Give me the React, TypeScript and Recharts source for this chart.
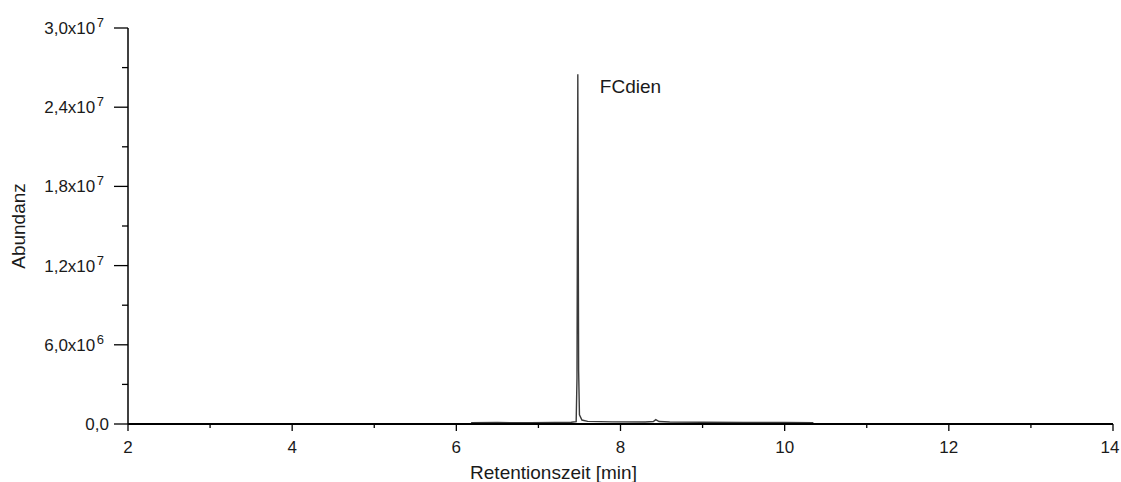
import React from 'react';
import { LineChart, Line, XAxis, YAxis } from 'recharts';

const times = [6.18, 6.5, 6.9, 7.2, 7.4, 7.46, 7.47, 7.48, 7.49, 7.5, 7.53, 7.6, 7.9, 8.3, 8.4, 8.43, 8.47, 8.6, 9.0, 9.5, 10.0, 10.35];
const abundance = [1.0e5, 1.1e5, 1.0e5, 1.2e5, 1.3e5, 1.8e5, 3.5e6, 2.65e7, 4.0e6, 7e5, 3.0e5, 2.0e5, 1.6e5, 1.5e5, 1.9e5, 3.3e5, 1.9e5, 1.5e5, 1.3e5, 1.2e5, 1.1e5, 1.0e5];

const peakName = 'FCdien';
const peakIndex = 7;

const xTicks = [2, 3, 4, 5, 6, 7, 8, 9, 10, 11, 12, 13, 14];
const xMajorTicks = [2, 4, 6, 8, 10, 12, 14];

const yTicks = [0, 3e6, 6e6, 9e6, 1.2e7, 1.5e7, 1.8e7, 2.1e7, 2.4e7, 2.7e7, 3e7];
const yMajorTicks = [0, 6e6, 1.2e7, 1.8e7, 2.4e7, 3e7];
const yMantissas = ['0,0', '6,0x10', '1,2x10', '1,8x10', '2,4x10', '3,0x10'];
const yExponents = ['', '6', '7', '7', '7', '7'];

const xTitle = 'Retentionszeit [min]';
const yTitle = 'Abundanz';

const data = times.map((t, i) => ({ t, a: abundance[i] }));

const FONT = '"Liberation Sans", Arial, sans-serif';
const TEXT = '#1a1a1a';
const CHART_W = 1121;
const CHART_H = 482;

const XTick = (props: any) => {
  const { x, y, payload } = props;
  const v = payload.value;
  const major = xMajorTicks.includes(v);
  const lx = Math.min(x, CHART_W - 11);
  return (
    <g>
      <line x1={x} x2={x} y1={y} y2={y + (major ? 7 : 4)} stroke="#000" strokeWidth={1.3} />
      {major && (
        <text x={lx} y={y + 29} textAnchor="middle" fontSize={17} fontFamily={FONT} fill={TEXT}>
          {String(v)}
        </text>
      )}
    </g>
  );
};

const YTick = (props: any) => {
  const { x, y, payload } = props;
  const v = payload.value;
  const mi = yMajorTicks.indexOf(v);
  const major = mi >= 0;
  return (
    <g>
      <line x1={x - (major ? 14 : 6)} x2={x} y1={y} y2={y} stroke="#000" strokeWidth={1.3} />
      {major && (
        <text x={x - (yExponents[mi] ? 24 : 19)} y={y + 6} textAnchor="end" fontSize={17} fontFamily={FONT} fill={TEXT}>
          {yMantissas[mi]}
          {yExponents[mi] ? (
            <tspan dx={1.5} dy={-7} fontSize={13}>
              {yExponents[mi]}
            </tspan>
          ) : null}
        </text>
      )}
    </g>
  );
};

const PeakLabel = (props: any) => {
  if (props.index !== peakIndex) return null;
  const vb = props.viewBox || {};
  const x = vb.x ?? props.x;
  const y = vb.y ?? props.y;
  return (
    <text x={x + 22} y={y + 19} fontSize={19} fontFamily={FONT} fill={TEXT}>
      {peakName}
    </text>
  );
};

const XTitle = (props: any) => (
  <text x={553.5} y={479} textAnchor="middle" fontSize={19} fontFamily={FONT} fill={TEXT}>
    {xTitle}
  </text>
);

const YTitle = (props: any) => (
  <text
    x={0}
    y={0}
    transform="translate(25, 226) rotate(-90)"
    textAnchor="middle"
    fontSize={19}
    fontFamily={FONT}
    fill={TEXT}
  >
    {yTitle}
  </text>
);

export default function App() {
  return (
    <div style={{ position: 'fixed', left: 0, top: 0, width: CHART_W, height: CHART_H, background: '#fff' }}>
      <LineChart width={CHART_W} height={CHART_H} data={data} margin={{ top: 28, right: 8, bottom: 0, left: 0 }}>
        <XAxis
          dataKey="t"
          type="number"
          domain={[2, 14]}
          ticks={xTicks}
          interval={0}
          allowDataOverflow
          height={58}
          tickSize={0}
          tickMargin={0}
          tickLine={false}
          axisLine={{ stroke: '#000', strokeWidth: 2 }}
          tick={<XTick />}
          label={{ content: XTitle }}
        />
        <YAxis
          type="number"
          domain={[0, 3e7]}
          ticks={yTicks}
          interval={0}
          allowDataOverflow
          width={128}
          tickSize={0}
          tickMargin={0}
          tickLine={false}
          axisLine={{ stroke: '#000', strokeWidth: 1.5 }}
          tick={<YTick />}
          label={{ content: YTitle }}
        />
        <Line
          dataKey="a"
          type="linear"
          stroke="#3a3a3a"
          strokeWidth={1.4}
          dot={false}
          activeDot={false}
          isAnimationActive={false}
          label={PeakLabel}
        />
      </LineChart>
    </div>
  );
}
